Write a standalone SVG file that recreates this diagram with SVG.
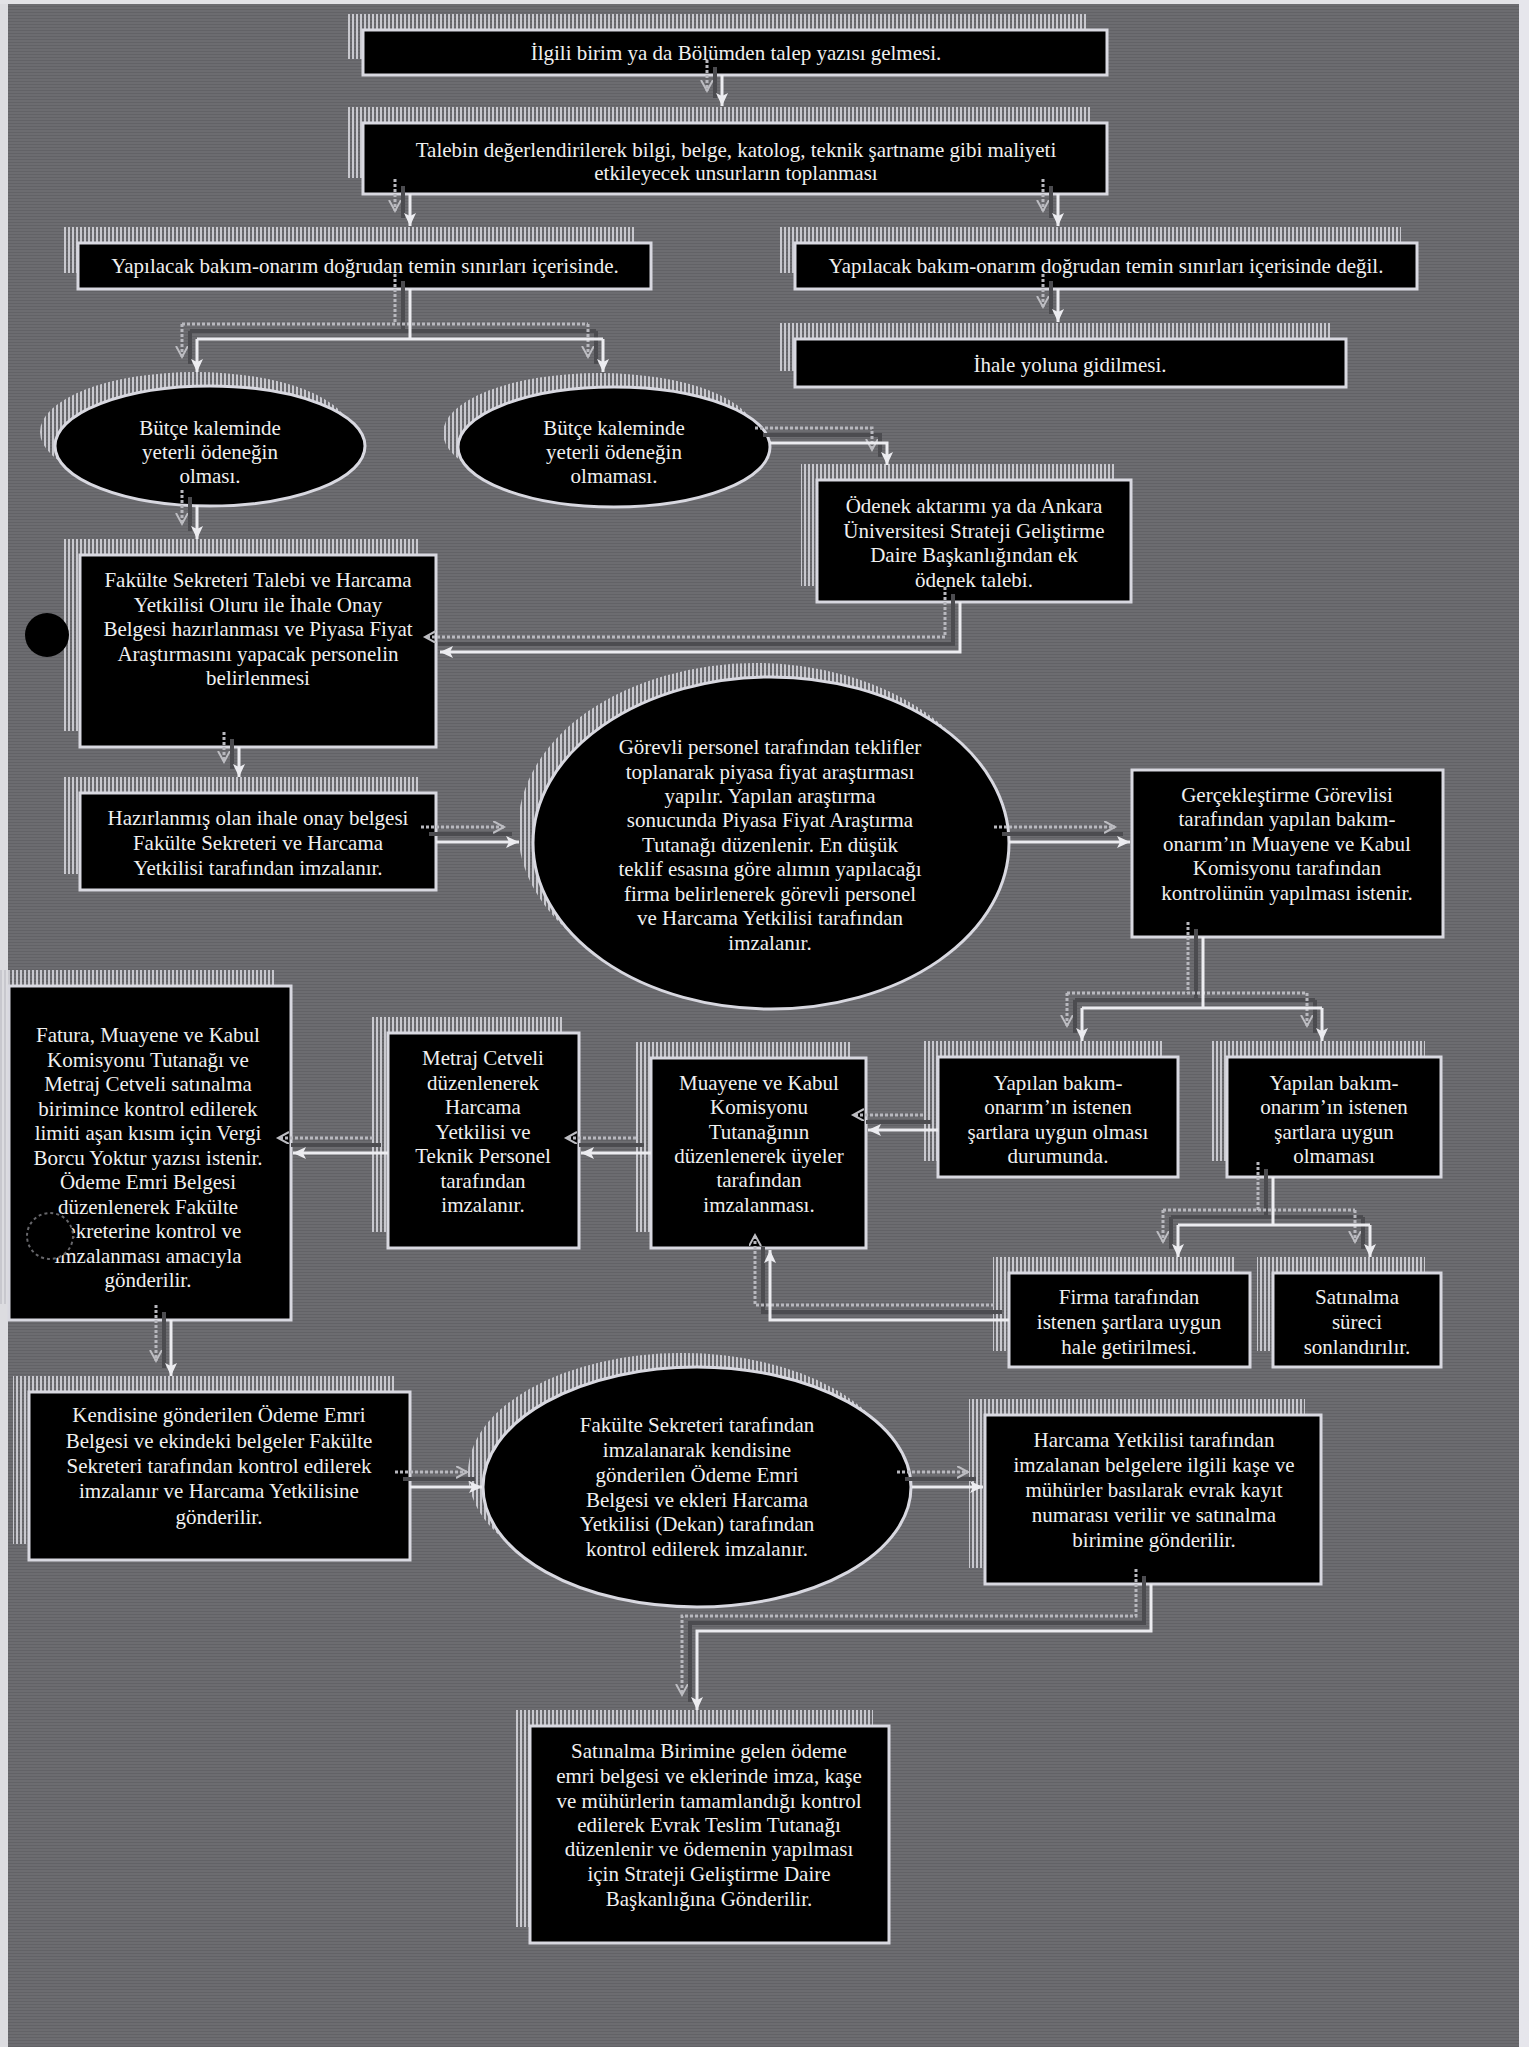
<svg xmlns="http://www.w3.org/2000/svg" width="1529" height="2047" viewBox="0 0 1529 2047">
<defs>
<pattern id="bgp" patternUnits="userSpaceOnUse" width="12" height="3">
<rect width="12" height="3" fill="#6c6c70"/>
<rect width="12" height="1" fill="#626266"/>
</pattern>
<pattern id="hatch" patternUnits="userSpaceOnUse" width="4" height="8">
<rect x="0" y="0" width="2" height="8" fill="#c8c8ce"/>
</pattern>
<marker id="ah" markerUnits="userSpaceOnUse" markerWidth="16" markerHeight="16" refX="13" refY="7" orient="auto">
<path d="M0,1 L13,7 L0,13 L3,7 z" fill="#ececf0"/>
</marker>
<marker id="ahs" markerUnits="userSpaceOnUse" markerWidth="14" markerHeight="14" refX="11" refY="6" orient="auto">
<path d="M0,0 L11,6 L0,12" fill="none" stroke="#bdbdc2" stroke-width="2"/>
</marker>
</defs>
<style>
.hatch{fill:url(#hatch)}
.box{fill:#000;stroke:#d8d8e0;stroke-width:3}
.lbl{font-family:"Liberation Serif","Times New Roman",serif;font-size:21px;fill:#f0f0f0;text-anchor:middle}
.conn{fill:none;stroke:#ececf0;stroke-width:3;marker-end:url(#ah)}
.sh{fill:none;stroke:#b8b8be;stroke-width:3;stroke-dasharray:3 2;marker-end:url(#ahs)}
.dk{fill:none;stroke:#4c4c50;stroke-width:4}
</style>
<rect width="1529" height="2047" fill="url(#bgp)"/>
<rect x="0" y="0" width="8" height="2047" fill="#dcdce0"/>
<rect x="0" y="0" width="1529" height="4" fill="#e2e2e6"/>
<rect x="1519" y="0" width="10" height="2047" fill="#e6e6ec"/>

<g id="n1">
<rect class="hatch" x="347" y="14" width="741" height="45"/>
<rect class="box" x="363" y="30" width="744" height="45"/>
<text class="lbl" x="736" y="60">İlgili birim ya da Bölümden talep yazısı gelmesi.</text>
</g>
<g id="n2">
<rect class="hatch" x="347" y="107" width="744" height="71"/>
<rect class="box" x="363" y="123" width="744" height="71"/>
<text class="lbl"><tspan x="736" y="157">Talebin değerlendirilerek bilgi, belge, katolog, teknik şartname gibi maliyeti</tspan><tspan x="736" y="180">etkileyecek unsurların toplanması</tspan></text>
</g>
<g id="n3">
<rect class="hatch" x="62" y="227" width="573" height="46"/>
<rect class="box" x="78" y="243" width="573" height="46"/>
<text class="lbl" x="365" y="273">Yapılacak bakım-onarım doğrudan temin sınırları içerisinde.</text>
</g>
<g id="n4">
<rect class="hatch" x="779" y="227" width="622" height="46"/>
<rect class="box" x="795" y="243" width="622" height="46"/>
<text class="lbl" x="1106" y="273">Yapılacak bakım-onarım doğrudan temin sınırları içerisinde değil.</text>
</g>
<g id="n5">
<rect class="hatch" x="779" y="323" width="551" height="48"/>
<rect class="box" x="795" y="339" width="551" height="48"/>
<text class="lbl" x="1070" y="372">İhale yoluna gidilmesi.</text>
</g>
<g id="e1">
<ellipse class="hatch" cx="195" cy="432" rx="155" ry="60"/>
<ellipse class="box" cx="210" cy="446" rx="155" ry="60"/>
<text class="lbl"><tspan x="210" y="435">Bütçe kaleminde</tspan><tspan x="210" y="459">yeterli ödeneğin</tspan><tspan x="210" y="483">olması.</tspan></text>
</g>
<g id="e2">
<ellipse class="hatch" cx="599" cy="433" rx="156" ry="60"/>
<ellipse class="box" cx="614" cy="447" rx="156" ry="60"/>
<text class="lbl"><tspan x="614" y="435">Bütçe kaleminde</tspan><tspan x="614" y="459">yeterli ödeneğin</tspan><tspan x="614" y="483">olmaması.</tspan></text>
</g>
<g id="n6">
<rect class="hatch" x="801" y="464" width="314" height="122"/>
<rect class="box" x="817" y="480" width="314" height="122"/>
<text class="lbl"><tspan x="974" y="513">Ödenek aktarımı ya da Ankara</tspan><tspan x="974" y="538">Üniversitesi Strateji Geliştirme</tspan><tspan x="974" y="562">Daire Başkanlığından ek</tspan><tspan x="974" y="587">ödenek talebi.</tspan></text>
</g>
<g id="n7">
<rect class="hatch" x="64" y="539" width="356" height="192"/>
<rect class="box" x="80" y="555" width="356" height="192"/>
<text class="lbl"><tspan x="258" y="587">Fakülte Sekreteri Talebi ve Harcama</tspan><tspan x="258" y="612">Yetkilisi Oluru ile İhale Onay</tspan><tspan x="258" y="636">Belgesi hazırlanması ve Piyasa Fiyat</tspan><tspan x="258" y="661">Araştırmasını yapacak personelin</tspan><tspan x="258" y="685">belirlenmesi</tspan></text>
</g>
<g id="dot1">
<circle cx="47" cy="635" r="22" fill="#000"/>
</g>
<g id="n8">
<rect class="hatch" x="64" y="777" width="356" height="97"/>
<rect class="box" x="80" y="793" width="356" height="97"/>
<text class="lbl"><tspan x="258" y="825">Hazırlanmış olan ihale onay belgesi</tspan><tspan x="258" y="850">Fakülte Sekreteri ve Harcama</tspan><tspan x="258" y="875">Yetkilisi tarafından imzalanır.</tspan></text>
</g>
<g id="e3">
<ellipse class="hatch" cx="756" cy="829" rx="238" ry="166"/>
<ellipse class="box" cx="771" cy="843" rx="238" ry="166"/>
<text class="lbl"><tspan x="770" y="754">Görevli personel tarafından teklifler</tspan><tspan x="770" y="779">toplanarak piyasa fiyat araştırması</tspan><tspan x="770" y="803">yapılır. Yapılan araştırma</tspan><tspan x="770" y="827">sonucunda Piyasa Fiyat Araştırma</tspan><tspan x="770" y="852">Tutanağı düzenlenir. En düşük</tspan><tspan x="770" y="876">teklif esasına göre alımın yapılacağı</tspan><tspan x="770" y="901">firma belirlenerek görevli personel</tspan><tspan x="770" y="925">ve Harcama Yetkilisi tarafından</tspan><tspan x="770" y="950">imzalanır.</tspan></text>
</g>
<g id="n9">
<rect class="box" x="1132" y="770" width="311" height="167"/>
<text class="lbl"><tspan x="1287" y="802">Gerçekleştirme Görevlisi</tspan><tspan x="1287" y="826">tarafından yapılan bakım-</tspan><tspan x="1287" y="851">onarım’ın Muayene ve Kabul</tspan><tspan x="1287" y="875">Komisyonu tarafından</tspan><tspan x="1287" y="900">kontrolünün yapılması istenir.</tspan></text>
</g>
<g id="n10">
<rect class="hatch" x="-8" y="970" width="283" height="334"/>
<rect class="box" x="9" y="986" width="282" height="334"/>
<text class="lbl"><tspan x="148" y="1042">Fatura, Muayene ve Kabul</tspan><tspan x="148" y="1067">Komisyonu Tutanağı ve</tspan><tspan x="148" y="1091">Metraj Cetveli satınalma</tspan><tspan x="148" y="1116">birimince kontrol edilerek</tspan><tspan x="148" y="1140">limiti aşan kısım için Vergi</tspan><tspan x="148" y="1165">Borcu Yoktur yazısı istenir.</tspan><tspan x="148" y="1189">Ödeme Emri Belgesi</tspan><tspan x="148" y="1214">düzenlenerek Fakülte</tspan><tspan x="148" y="1238">Sekreterine kontrol ve</tspan><tspan x="148" y="1263">imzalanması amacıyla</tspan><tspan x="148" y="1287">gönderilir.</tspan></text>
<circle cx="50" cy="1236" r="23" fill="#000" stroke="#66666a" stroke-width="2" stroke-dasharray="3 3"/>
</g>
<g id="n11">
<rect class="hatch" x="372" y="1017" width="191" height="215"/>
<rect class="box" x="388" y="1033" width="191" height="215"/>
<text class="lbl"><tspan x="483" y="1065">Metraj Cetveli</tspan><tspan x="483" y="1090">düzenlenerek</tspan><tspan x="483" y="1114">Harcama</tspan><tspan x="483" y="1139">Yetkilisi ve</tspan><tspan x="483" y="1163">Teknik Personel</tspan><tspan x="483" y="1188">tarafından</tspan><tspan x="483" y="1212">imzalanır.</tspan></text>
</g>
<g id="n12">
<rect class="hatch" x="635" y="1042" width="215" height="190"/>
<rect class="box" x="651" y="1058" width="215" height="190"/>
<text class="lbl"><tspan x="759" y="1090">Muayene ve Kabul</tspan><tspan x="759" y="1114">Komisyonu</tspan><tspan x="759" y="1139">Tutanağının</tspan><tspan x="759" y="1163">düzenlenerek üyeler</tspan><tspan x="759" y="1187">tarafından</tspan><tspan x="759" y="1212">imzalanması.</tspan></text>
</g>
<g id="n13">
<rect class="hatch" x="922" y="1041" width="240" height="120"/>
<rect class="box" x="938" y="1057" width="240" height="120"/>
<text class="lbl"><tspan x="1058" y="1090">Yapılan bakım-</tspan><tspan x="1058" y="1114">onarım’ın istenen</tspan><tspan x="1058" y="1139">şartlara uygun olması</tspan><tspan x="1058" y="1163">durumunda.</tspan></text>
</g>
<g id="n14">
<rect class="hatch" x="1211" y="1041" width="214" height="120"/>
<rect class="box" x="1227" y="1057" width="214" height="120"/>
<text class="lbl"><tspan x="1334" y="1090">Yapılan bakım-</tspan><tspan x="1334" y="1114">onarım’ın istenen</tspan><tspan x="1334" y="1139">şartlara uygun</tspan><tspan x="1334" y="1163">olmaması</tspan></text>
</g>
<g id="n15">
<rect class="hatch" x="993" y="1257" width="241" height="94"/>
<rect class="box" x="1009" y="1273" width="241" height="94"/>
<text class="lbl"><tspan x="1129" y="1304">Firma tarafından</tspan><tspan x="1129" y="1329">istenen şartlara uygun</tspan><tspan x="1129" y="1354">hale getirilmesi.</tspan></text>
</g>
<g id="n16">
<rect class="hatch" x="1257" y="1257" width="168" height="94"/>
<rect class="box" x="1273" y="1273" width="168" height="94"/>
<text class="lbl"><tspan x="1357" y="1304">Satınalma</tspan><tspan x="1357" y="1329">süreci</tspan><tspan x="1357" y="1354">sonlandırılır.</tspan></text>
</g>
<g id="n17">
<rect class="hatch" x="13" y="1376" width="381" height="168"/>
<rect class="box" x="29" y="1392" width="381" height="168"/>
<text class="lbl"><tspan x="219" y="1422">Kendisine gönderilen Ödeme Emri</tspan><tspan x="219" y="1448">Belgesi ve ekindeki belgeler Fakülte</tspan><tspan x="219" y="1473">Sekreteri tarafından kontrol edilerek</tspan><tspan x="219" y="1498">imzalanır ve Harcama Yetkilisine</tspan><tspan x="219" y="1524">gönderilir.</tspan></text>
</g>
<g id="e4">
<ellipse class="hatch" cx="682" cy="1473" rx="214" ry="120"/>
<ellipse class="box" cx="697" cy="1487" rx="214" ry="120"/>
<text class="lbl"><tspan x="697" y="1432">Fakülte Sekreteri tarafından</tspan><tspan x="697" y="1457">imzalanarak kendisine</tspan><tspan x="697" y="1482">gönderilen Ödeme Emri</tspan><tspan x="697" y="1507">Belgesi ve ekleri Harcama</tspan><tspan x="697" y="1531">Yetkilisi (Dekan) tarafından</tspan><tspan x="697" y="1556">kontrol edilerek imzalanır.</tspan></text>
</g>
<g id="n18">
<rect class="hatch" x="969" y="1399" width="336" height="169"/>
<rect class="box" x="985" y="1415" width="336" height="169"/>
<text class="lbl"><tspan x="1154" y="1447">Harcama Yetkilisi tarafından</tspan><tspan x="1154" y="1472">imzalanan belgelere ilgili kaşe ve</tspan><tspan x="1154" y="1497">mühürler basılarak evrak kayıt</tspan><tspan x="1154" y="1522">numarası verilir ve satınalma</tspan><tspan x="1154" y="1547">birimine gönderilir.</tspan></text>
</g>
<g id="n19">
<rect class="hatch" x="514" y="1710" width="359" height="217"/>
<rect class="box" x="530" y="1726" width="359" height="217"/>
<text class="lbl"><tspan x="709" y="1758">Satınalma Birimine gelen ödeme</tspan><tspan x="709" y="1783">emri belgesi ve eklerinde imza, kaşe</tspan><tspan x="709" y="1808">ve mühürlerin tamamlandığı kontrol</tspan><tspan x="709" y="1832">edilerek Evrak Teslim Tutanağı</tspan><tspan x="709" y="1856">düzenlenir ve ödemenin yapılması</tspan><tspan x="709" y="1881">için Strateji Geliştirme Daire</tspan><tspan x="709" y="1906">Başkanlığına Gönderilir.</tspan></text>
</g>

<g id="connectors">
<g id="connector-dark" transform="translate(-7,-8)">
<path class="dk" d="M722,75 V106"/>
<path class="dk" d="M410,194 V226"/>
<path class="dk" d="M1058,194 V226"/>
<path class="dk" d="M410,289 V339 M197,339 H603 M197,339 V372 M603,339 V372"/>
<path class="dk" d="M1058,289 V322"/>
<path class="dk" d="M770,443 H887 V465"/>
<path class="dk" d="M197,505 V539"/>
<path class="dk" d="M960,602 V652 H445"/>
<path class="dk" d="M239,747 V777"/>
<path class="dk" d="M436,842 H519"/>
<path class="dk" d="M1009,842 H1130"/>
<path class="dk" d="M1203,937 V1008 M1082,1008 H1322 M1082,1008 V1041 M1322,1008 V1041"/>
<path class="dk" d="M938,1130 H873"/>
<path class="dk" d="M651,1153 H586"/>
<path class="dk" d="M388,1153 H298"/>
<path class="dk" d="M1273,1177 V1225 M1178,1225 H1370 M1178,1225 V1257 M1370,1225 V1257"/>
<path class="dk" d="M1009,1320 H770 V1255"/>
<path class="dk" d="M171,1320 V1376"/>
<path class="dk" d="M410,1487 H482"/>
<path class="dk" d="M912,1487 H983"/>
<path class="dk" d="M1151,1584 V1631 H697 V1710"/>
</g>
<g id="connector-shadows" transform="translate(-15,-15)">
<path class="sh" d="M722,75 V106"/>
<path class="sh" d="M410,194 V226"/>
<path class="sh" d="M1058,194 V226"/>
<path class="sh" d="M410,289 V339 M197,339 H603" style="marker-end:none"/>
<path class="sh" d="M197,339 V372"/>
<path class="sh" d="M603,339 V372"/>
<path class="sh" d="M1058,289 V322"/>
<path class="sh" d="M770,443 H887 V465"/>
<path class="sh" d="M197,505 V539"/>
<path class="sh" d="M960,602 V652 H440"/>
<path class="sh" d="M239,747 V777"/>
<path class="sh" d="M436,842 H519"/>
<path class="sh" d="M1009,842 H1130"/>
<path class="sh" d="M1203,937 V1008 M1082,1008 H1322" style="marker-end:none"/>
<path class="sh" d="M1082,1008 V1041"/>
<path class="sh" d="M1322,1008 V1041"/>
<path class="sh" d="M938,1130 H868"/>
<path class="sh" d="M651,1153 H581"/>
<path class="sh" d="M388,1153 H293"/>
<path class="sh" d="M1273,1177 V1225 M1178,1225 H1370" style="marker-end:none"/>
<path class="sh" d="M1178,1225 V1257"/>
<path class="sh" d="M1370,1225 V1257"/>
<path class="sh" d="M1009,1320 H770 V1250"/>
<path class="sh" d="M171,1320 V1376"/>
<path class="sh" d="M410,1487 H482"/>
<path class="sh" d="M912,1487 H983"/>
<path class="sh" d="M1151,1584 V1631 H697 V1710"/>
</g>
<path class="conn" d="M722,75 V106"/>
<path class="conn" d="M410,194 V226"/>
<path class="conn" d="M1058,194 V226"/>
<path class="conn" d="M410,289 V339 M197,339 H603" style="marker-end:none"/>
<path class="conn" d="M197,339 V372"/>
<path class="conn" d="M603,339 V372"/>
<path class="conn" d="M1058,289 V322"/>
<path class="conn" d="M770,443 H887 V465"/>
<path class="conn" d="M197,505 V539"/>
<path class="conn" d="M960,602 V652 H440"/>
<path class="conn" d="M239,747 V777"/>
<path class="conn" d="M436,842 H519"/>
<path class="conn" d="M1009,842 H1130"/>
<path class="conn" d="M1203,937 V1008 M1082,1008 H1322" style="marker-end:none"/>
<path class="conn" d="M1082,1008 V1041"/>
<path class="conn" d="M1322,1008 V1041"/>
<path class="conn" d="M938,1130 H868"/>
<path class="conn" d="M651,1153 H581"/>
<path class="conn" d="M388,1153 H293"/>
<path class="conn" d="M1273,1177 V1225 M1178,1225 H1370" style="marker-end:none"/>
<path class="conn" d="M1178,1225 V1257"/>
<path class="conn" d="M1370,1225 V1257"/>
<path class="conn" d="M1009,1320 H770 V1250"/>
<path class="conn" d="M171,1320 V1376"/>
<path class="conn" d="M410,1487 H482"/>
<path class="conn" d="M912,1487 H983"/>
<path class="conn" d="M1151,1584 V1631 H697 V1710"/>
</g>
</svg>
